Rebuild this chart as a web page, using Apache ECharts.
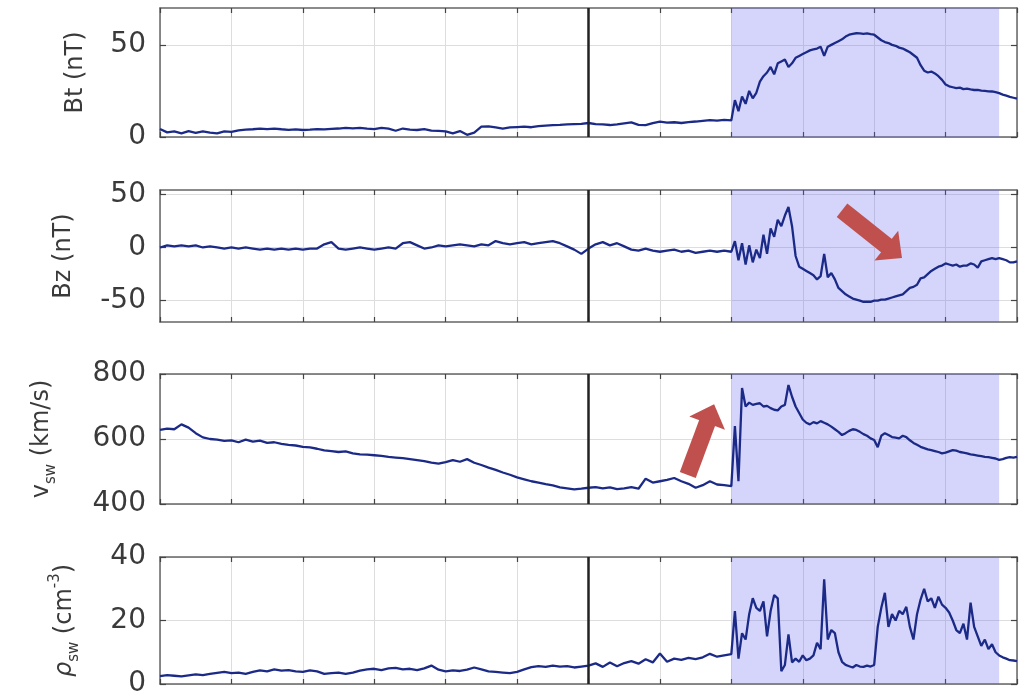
<!DOCTYPE html>
<html><head><meta charset="utf-8">
<script src="https://cdn.jsdelivr.net/npm/echarts@6/dist/echarts.min.js"></script>
<style>html,body{margin:0;padding:0;background:#fff}#c{width:1020px;height:698px}</style>
</head><body><div id="c"></div>
<script>
// time grid: segment A 0.0..7.9 step 0.1 ; segment B 8.00..12.00 step 0.05
const stepA = 0.1, startB = 8.0, stepB = 0.05;

const btA = [4.3,2.5,3.0,2.0,3.2,2.2,3.0,2.4,2.0,3.1,
 2.8,3.6,4.0,4.2,4.5,4.3,4.6,4.2,3.9,4.1,
 3.8,4.0,4.3,4.1,4.4,4.6,4.9,4.7,5.0,4.6,
 4.3,4.9,4.5,3.4,4.6,4.0,3.8,4.3,3.5,3.3,
 3.0,2.0,3.2,1.2,2.4,5.6,5.8,5.2,4.6,5.2,
 5.4,5.6,5.3,5.9,6.2,6.4,6.6,6.9,7.0,7.1,
 7.6,7.0,6.8,6.5,6.9,7.4,7.9,6.6,6.4,7.5,
 8.3,7.8,8.0,7.6,8.1,8.4,8.8,9.2,8.9,9.3];
const btB = [9.0,20,14,22,18,25,21,24,30,33,
 35,38,34,40,41,42,38,40,43,44,
 45,46,47,47.5,48,49,44,49,50,51,
 52,53,54.5,55.5,56,56.3,56.2,56.0,56.2,55.8,
 55.5,54,52.5,51.5,51,50,49.5,48.5,48,47,
 46,44.5,43,39,36,35,35.5,34.5,33,31,
 28.5,27.5,27,26.5,26.8,26,26.2,25.8,25.5,25.6,
 25.2,25,24.8,24.7,24.3,23.8,23,22.4,21.8,21.3,
 20.8];

const bzA = [0,2,1,2,1,2,0,1,0,-1,
 0,-1,0,-1,-2,-1,-2,-1,-2,-1,
 -2,-1,-1,3,5,-1,-2,-1,0,-1,
 -2,-1,0,-1,4,5,2,-1,0,2,
 1,2,3,2,1,3,2,6,4,3,
 4,5,3,4,5,6,4,1,-2,-6,
 -1,3,5,2,4,1,-2,-3,-1,-3,
 -4,-3,-2,-4,-3,-5,-4,-3,-4,-3];
const bzB = [-4,6,-12,4,-16,2,-14,-2,-10,12,
 -6,18,10,26,20,30,38,20,-8,-18,
 -20,-22,-24,-26,-30,-27,-6,-28,-24,-30,
 -38,-41,-44,-46,-48,-49,-50,-51,-51,-51,
 -50,-50,-49,-49,-48,-47,-46,-45,-44,-41,
 -38,-37,-35,-29,-28,-25,-22,-20,-18,-17,
 -15,-16,-17,-16,-18,-17,-17,-15,-16,-19,
 -13,-12,-11,-10,-11,-10,-11,-12,-14,-14,
 -13];

const vA = [628,632,630,645,635,618,605,600,598,594,
 596,590,598,592,595,588,590,585,582,580,
 576,574,570,565,563,560,562,556,553,552,
 550,548,545,543,541,538,535,532,527,524,
 529,535,530,538,527,520,512,505,497,490,
 482,476,470,466,461,457,451,448,445,447,
 450,452,448,451,446,448,452,447,478,466,
 470,474,480,470,462,450,458,470,460,458];
const vB = [455,640,470,757,700,712,705,708,710,700,
 702,695,690,688,700,705,766,730,700,680,
 660,650,645,652,648,655,650,645,638,630,
 622,612,618,625,630,628,622,615,610,602,
 597,575,610,618,612,606,604,602,610,606,
 596,588,582,576,572,568,566,563,560,556,
 558,562,566,564,560,558,556,553,551,549,
 547,545,544,542,540,536,538,542,544,543,
 545];

const rhoA = [2.5,2.8,2.6,2.4,2.7,3.0,2.8,3.2,3.5,3.8,
 3.4,3.6,3.2,3.8,4.3,4.0,4.6,4.2,4.4,4.0,
 3.8,4.3,4.0,3.2,3.4,3.6,3.2,3.6,4.2,4.6,
 4.8,4.4,4.9,5.1,4.6,4.8,4.4,4.9,5.8,4.5,
 4.0,4.3,4.1,4.5,5.2,4.6,4.0,3.8,3.6,3.4,
 3.8,4.6,5.3,5.6,5.4,5.8,5.5,5.6,5.2,5.5,
 5.8,6.5,5.4,6.8,5.6,6.6,7.2,6.4,7.8,6.8,
 9.6,7.0,8.0,7.6,8.2,7.8,8.4,9.5,8.6,9.0];
const rhoB = [9.4,23,8,16,14,22,27,24,23,26,
 15,23,28,27,4,6,15.6,6.8,8,7,
 9,7.5,8,9,13,11,33,14,17,16,
 10,7,6,5.6,5.2,6,5.5,5.4,5.8,5.5,
 6,18,24,28.7,18,22,20,23,22,24.3,
 18,14,22,26.6,30,26,27,24,27.5,25,
 24,22.5,20,17,16,19,14,25.6,18,15,
 12,14,11,12.5,10,9,8.4,8,7.5,7.4,
 7.2];

const yRanges = [[0,70],[-70,54],[400,800],[0,40]];
const yTicks = [[0,50],[-50,0,50],[400,600,800],[0,20,40]];
const yNames = ['Bt (nT)','Bz (nT)','{a|v}{s|sw}{a| (km/s)}','{g|ρ}{s|sw}{a| (cm}{p|-3}{a|)}'];
const shadeRange = [8.0, 11.75];
const markTime = 6;
// arrows: [panel, tailX, tailY, headX, headY]
const arrows = [[1, 9.55, 35, 10.28, -4],[2, 7.39, 489, 7.71, 678]];

function series(a, b) {
  const out = [];
  for (let i = 0; i < a.length; i++) out.push([+(i * stepA).toFixed(2), a[i]]);
  for (let i = 0; i < b.length; i++) out.push([+(startB + i * stepB).toFixed(2), b[i]]);
  return out;
}
const allData = [series(btA, btB), series(bzA, bzB), series(vA, vB), series(rhoA, rhoB)];

const layout = [{top:8,height:129,gap:72},{top:190,height:132,gap:84},{top:374,height:130,gap:101},{top:557,height:128,gap:78}];
const FONT = 'DejaVu Sans';
const TXT = '#3a3a3a';
const BORDER = '#666';
const GRIDC = '#dddddd';
const LINEC = '#1b2a87';

const grid = [], xAxis = [], yAxis = [], ser = [];
layout.forEach((L, i) => {
  grid.push({left:160, width:857, top:L.top, height:L.height, containLabel:false});
  const xBase = {gridIndex:i, type:'value', min:0, max:12, interval:1,
    axisLabel:{show:false}, axisLine:{show:true,onZero:false,lineStyle:{color:BORDER,width:1.5}},
    axisTick:{show:true,inside:true,length:5,lineStyle:{color:'#444',width:1.2}}};
  xAxis.push(Object.assign({}, xBase, {position:'bottom', splitLine:{show:true,lineStyle:{color:GRIDC,width:1}}}));
  xAxis.push(Object.assign({}, xBase, {position:'top', splitLine:{show:false}}));
  const [mn, mx] = yRanges[i];
  const rich = {
    a:{fontFamily:FONT,fontSize:24,color:TXT,lineHeight:34},
    g:{fontFamily:FONT,fontSize:24,color:TXT,lineHeight:34,fontStyle:'italic'},
    s:{fontFamily:FONT,fontSize:15,color:TXT,verticalAlign:'bottom',lineHeight:16},
    p:{fontFamily:FONT,fontSize:15,color:TXT,verticalAlign:'top',lineHeight:16}
  };
  yAxis.push({gridIndex:i, type:'value', min:mn, max:mx, position:'left',
    name:yNames[i], nameLocation:'middle', nameRotate:90, nameGap:L.gap,
    nameTextStyle:{fontFamily:FONT,fontSize:24,color:TXT,rich:rich},
    axisLine:{show:true,onZero:false,lineStyle:{color:BORDER,width:1.5}},
    axisTick:{show:true,inside:true,length:6,customValues:yTicks[i],lineStyle:{color:'#444',width:1.2}},
    axisLabel:{customValues:yTicks[i],fontFamily:FONT,fontSize:28,color:TXT,margin:14},
    splitLine:{show:true,lineStyle:{color:GRIDC,width:1}}});
  yAxis.push({gridIndex:i, type:'value', min:mn, max:mx, position:'right',
    axisLine:{show:true,onZero:false,lineStyle:{color:BORDER,width:1.5}},
    axisTick:{show:true,inside:true,length:6,customValues:yTicks[i],lineStyle:{color:'#444',width:1.2}},
    axisLabel:{show:false}, splitLine:{show:false}});
  ser.push({type:'line', xAxisIndex:2*i, yAxisIndex:2*i, data:allData[i], symbol:'none', showSymbol:false,
    lineStyle:{color:LINEC,width:2.3}, itemStyle:{color:LINEC}, emphasis:{disabled:true}, z:3,
    markArea:{silent:true, itemStyle:{color:'rgba(100,100,240,0.27)'}, data:[[{xAxis:shadeRange[0]},{xAxis:shadeRange[1]}]]},
    markLine:{silent:true, symbol:'none', label:{show:false}, lineStyle:{color:'#222',width:2.5,type:'solid'}, data:[{xAxis:markTime}]}
  });
});
arrows.forEach(a => {
  const p = a[0];
  ser.push({type:'line', xAxisIndex:2*p, yAxisIndex:2*p, data:[], z:5,
    markLine:{silent:true, symbol:['none','triangle'], symbolSize:[38,20], label:{show:false},
      lineStyle:{color:'#c0504d',width:17,type:'solid',opacity:1}, itemStyle:{color:'#c0504d'},
      emphasis:{disabled:true},
      data:[[{coord:[a[1],a[2]]},{coord:[a[3],a[4]]}]]}});
});

const chart = echarts.init(document.getElementById('c'), null, {renderer:'canvas'});
chart.setOption({animation:false, backgroundColor:'#fff', grid, xAxis, yAxis, series:ser});
</script></body></html>
